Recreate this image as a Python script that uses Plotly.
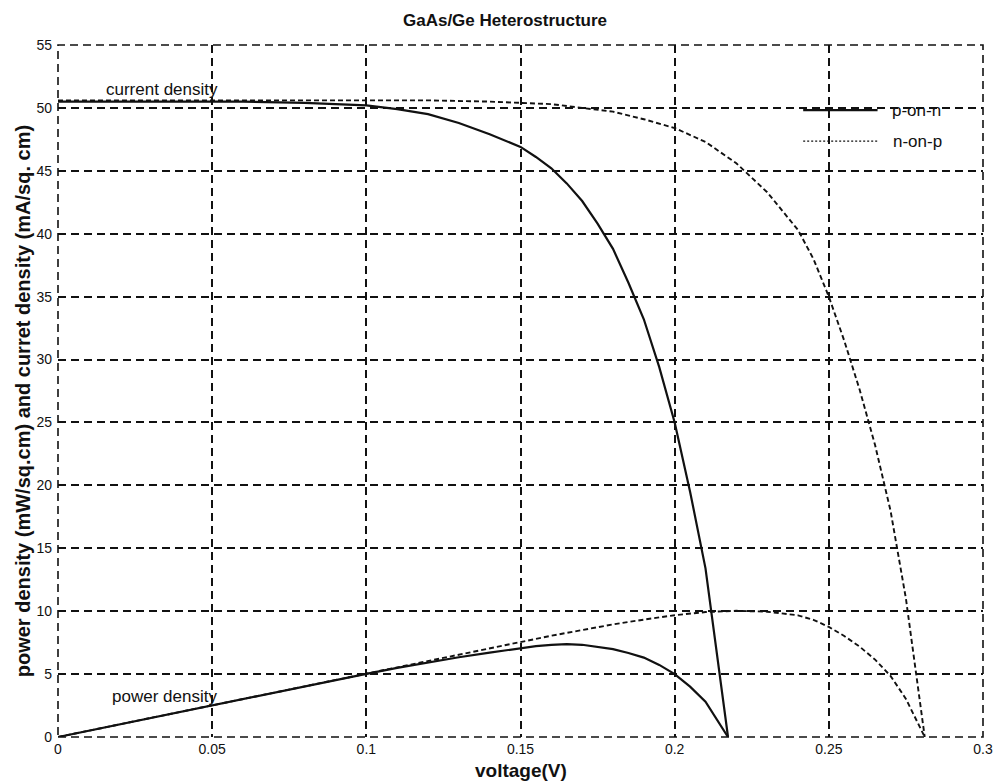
import plotly.graph_objects as go

# ---- p-on-n cell: voltage (V), current density (mA/cm^2), power density (mW/cm^2)
v_pn = [0, 0.02, 0.04, 0.06, 0.08, 0.10, 0.11, 0.12, 0.13, 0.14, 0.15, 0.155, 0.16,
        0.165, 0.17, 0.175, 0.18, 0.185, 0.19, 0.195, 0.20, 0.205, 0.21, 0.2173]
j_pn = [50.5, 50.5, 50.5, 50.5, 50.4, 50.2, 49.9, 49.5, 48.8, 47.9, 46.9, 46.1, 45.2,
        44.0, 42.6, 40.8, 38.8, 36.1, 33.2, 29.4, 25.0, 19.5, 13.4, 0.0]
p_pn = [0.0, 1.01, 2.02, 3.03, 4.03, 5.02, 5.49, 5.94, 6.34, 6.71, 7.08, 7.22, 7.32,
        7.38, 7.33, 7.18, 6.98, 6.68, 6.31, 5.73, 5.0, 4.0, 2.81, 0.0]

# ---- n-on-p cell
v_np = [0, 0.02, 0.04, 0.06, 0.08, 0.10, 0.12, 0.14, 0.15, 0.16, 0.17, 0.18, 0.19,
        0.20, 0.21, 0.22, 0.23, 0.24, 0.245, 0.25, 0.255, 0.26, 0.265, 0.27, 0.275, 0.2811]
j_np = [50.6, 50.6, 50.6, 50.6, 50.6, 50.6, 50.6, 50.5, 50.4, 50.3, 50.0, 49.7, 49.1,
        48.4, 47.3, 45.6, 43.3, 40.3, 38.0, 35.0, 31.5, 27.6, 23.2, 18.0, 11.0, 0.0]
p_np = [0.0, 1.01, 2.02, 3.04, 4.05, 5.06, 6.07, 7.07, 7.56, 8.05, 8.5, 8.95, 9.33,
        9.68, 9.93, 10.03, 9.96, 9.67, 9.31, 8.75, 8.03, 7.18, 6.15, 4.86, 3.03, 0.0]

x_ticks = [0, 0.05, 0.1, 0.15, 0.2, 0.25, 0.3]
x_tick_text = ["0", "0.05", "0.1", "0.15", "0.2", "0.25", "0.3"]
y_ticks = list(range(0, 56, 5))

FONT = "Liberation Sans, Arial, sans-serif"
INK = "#111111"
GRID_DASH = "8px,5px"
CURVE_DASH = "5px,3px"

fig = go.Figure()

solid = dict(color=INK, width=2.2)
dashed = dict(color=INK, width=1.9, dash=CURVE_DASH)

fig.add_trace(go.Scatter(x=v_pn, y=j_pn, mode="lines", line=solid, name="p-on-n"))
fig.add_trace(go.Scatter(x=v_pn, y=p_pn, mode="lines", line=solid, showlegend=False))
fig.add_trace(go.Scatter(x=v_np, y=j_np, mode="lines", line=dashed, name="n-on-p"))
fig.add_trace(go.Scatter(x=v_np, y=p_np, mode="lines", line=dashed, showlegend=False))

axis_common = dict(
    showgrid=True, gridcolor=INK, gridwidth=1.6, griddash=GRID_DASH,
    zeroline=False, showline=False, ticks="",
    tickfont=dict(family=FONT, size=14, color=INK),
)

fig.update_xaxes(range=[0, 0.3], tickvals=x_ticks, ticktext=x_tick_text,
                 ticklabelstandoff=2, **axis_common)
fig.update_yaxes(range=[0, 55], tickvals=y_ticks, ticklabelstandoff=5, **axis_common)

# dashed frame around the axes
fig.add_shape(type="rect", xref="paper", yref="paper", x0=0, y0=0, x1=1, y1=1,
              line=dict(color=INK, width=1.6, dash=GRID_DASH), layer="above")

# hand-drawn legend (no box)
leg_x0, leg_x1, leg_tx = 0.8056, 0.886, 0.899
fig.add_shape(type="line", xref="paper", yref="paper", x0=leg_x0, x1=leg_x1,
              y0=0.906, y1=0.906, line=dict(color=INK, width=2.2))
fig.add_shape(type="line", xref="paper", yref="paper", x0=leg_x0, x1=leg_x1,
              y0=0.861, y1=0.861, line=dict(color=INK, width=1.2, dash="2px,2px"))

annotations = [
    dict(text="p-on-n", x=leg_tx, y=0.906, xref="paper", yref="paper",
         xanchor="left", yanchor="middle", showarrow=False,
         font=dict(family=FONT, size=17, color=INK)),
    dict(text="n-on-p", x=leg_tx + 0.002, y=0.861, xref="paper", yref="paper",
         xanchor="left", yanchor="middle", showarrow=False,
         font=dict(family=FONT, size=17, color=INK)),
    dict(text="current density", x=0.0338, y=51.5, xref="x", yref="y",
         xanchor="center", yanchor="middle", showarrow=False,
         font=dict(family=FONT, size=17, color=INK)),
    dict(text="power density", x=0.0345, y=3.2, xref="x", yref="y",
         xanchor="center", yanchor="middle", showarrow=False,
         font=dict(family=FONT, size=17, color=INK)),
    dict(text="<b>voltage(V)</b>", x=0.5, y=-0.0477, xref="paper", yref="paper",
         xanchor="center", yanchor="middle", showarrow=False,
         font=dict(family=FONT, size=19, color=INK)),
    dict(text="<b>power density (mW/sq.cm) and curret density (mA/sq. cm)</b>",
         x=-0.0376, y=0.4855, xref="paper", yref="paper", textangle=-90,
         xanchor="center", yanchor="middle", showarrow=False,
         font=dict(family=FONT, size=20, color=INK)),
]

fig.update_layout(
    width=1005, height=783, autosize=False,
    margin=dict(l=58, r=16, t=45, b=46),
    paper_bgcolor="white", plot_bgcolor="white",
    showlegend=False,
    title=dict(text="<b>GaAs/Ge Heterostructure</b>", x=0.5025, y=1 - 20 / 783,
               xanchor="center", yanchor="middle", xref="container", yref="container",
               font=dict(family=FONT, size=17, color=INK)),
    annotations=annotations,
)

fig.write_html("out.html")
